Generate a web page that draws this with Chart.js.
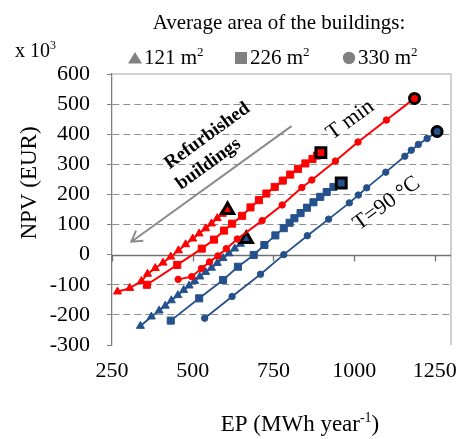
<!DOCTYPE html>
<html>
<head>
<meta charset="utf-8">
<script src="https://cdn.jsdelivr.net/npm/chart.js@4.4.1/dist/chart.umd.min.js"></script>
<style>
  html, body { margin: 0; padding: 0; background: #ffffff; }
  canvas { display: block; }
</style>
</head>
<body>
<canvas id="npv" width="461" height="439"></canvas>
<script>
// Axis ticks
const xTicks = [250, 500, 750, 1000, 1250];
const yTicks = [-300, -200, -100, 0, 100, 200, 300, 400, 500, 600];

// Average building areas (m2) shown in the legend
const areas = ['121', '226', '330'];

// T min, 121 m2
const tminSmallEP  = [267, 305, 341, 360, 384, 408, 432, 456, 478, 500, 520, 540, 558, 576, 592, 608];
const tminSmallNPV = [-123, -111, -88, -64, -45, -27, -7, 14, 34, 53, 70, 87, 103, 121, 135, 148];

// T min, 226 m2
const tminMidEP  = [358, 452, 528, 566, 597, 622, 653, 679, 705, 728, 754, 779, 802, 826, 849, 871, 885, 897];
const tminMidNPV = [-100, -34, 20, 50, 80, 103, 129, 157, 181, 203, 225, 246, 266, 285, 303, 318, 329, 339];

// T min, 330 m2
const tminLargeEP  = [455, 497, 527, 552, 578, 604, 638, 715, 777, 838, 869, 942, 1012, 1100, 1187];
const tminLargeNPV = [-82, -73, -46, -24, -4, 20, 52, 113, 165, 223, 248, 311, 374, 447, 519];

// T = 90 °C, 121 m2
const t90SmallEP  = [338, 372, 396, 415, 434, 454, 472, 489, 506, 522, 540, 558, 576, 594, 612, 630, 648, 666];
const t90SmallNPV = [-237, -206, -186, -170, -152, -135, -118, -103, -88, -73, -58, -44, -28, -12, 4, 20, 36, 52];

// T = 90 °C, 226 m2
const t90MidEP  = [432, 520, 594, 640, 689, 722, 756, 782, 800, 815, 834, 854, 874, 895, 915, 936, 960];
const t90MidNPV = [-219, -145, -84, -40, -1, 32, 64, 88, 106, 121, 138, 156, 174, 192, 208, 225, 238];

// T = 90 °C, 330 m2
const t90LargeEP  = [537, 622, 710, 782, 855, 921, 985, 1013, 1039, 1098, 1157, 1177, 1199, 1226, 1257];
const t90LargeNPV = [-211, -139, -65, 0, 63, 118, 172, 198, 222, 274, 327, 347, 366, 386, 409];

const RED = '#ff0000';
const BLUE = '#24508c';
const SERIF = "'Liberation Serif', 'Times New Roman', serif";

function series(label, xs, ys, color, style, r, endR, width) {
  const last = xs.length - 1;
  return {
    label,
    data: xs.map((x, i) => ({ x, y: ys[i] })),
    showLine: true,
    borderColor: color,
    borderWidth: width,
    backgroundColor: color,
    pointStyle: style,
    pointBackgroundColor: color,
    pointBorderColor: c => c.dataIndex === last ? '#000000' : color,
    pointBorderWidth: c => c.dataIndex === last ? 3 : 1,
    pointRadius: c => c.dataIndex === last ? endR : r,
    pointHoverRadius: c => c.dataIndex === last ? endR : r
  };
}

const datasets = [
  series('T min 121', tminSmallEP, tminSmallNPV, RED, 'triangle', 4.6, 7, 2),
  series('T min 226', tminMidEP, tminMidNPV, RED, 'rect', 5, 7, 2),
  series('T min 330', tminLargeEP, tminLargeNPV, RED, 'circle', 3.2, 5, 2),
  series('T90 121', t90SmallEP, t90SmallNPV, BLUE, 'triangle', 4.6, 7, 1.8),
  series('T90 226', t90MidEP, t90MidNPV, BLUE, 'rect', 5, 7, 1.8),
  series('T90 330', t90LargeEP, t90LargeNPV, BLUE, 'circle', 3.2, 5, 1.8)
];

// Draws text pieces where some pieces are raised superscripts
function richText(ctx, parts, x, y, size, align) {
  const supSize = Math.round(size * 0.62);
  let total = 0;
  const widths = parts.map(p => {
    ctx.font = (p.sup ? supSize : size) + 'px ' + SERIF;
    const w = ctx.measureText(p.t).width;
    total += w;
    return w;
  });
  let cx = align === 'center' ? x - total / 2 : (align === 'right' ? x - total : x);
  ctx.textAlign = 'left';
  ctx.textBaseline = 'alphabetic';
  parts.forEach((p, i) => {
    ctx.font = (p.sup ? supSize : size) + 'px ' + SERIF;
    ctx.fillText(p.t, cx, p.sup ? y - size * 0.38 : y);
    cx += widths[i];
  });
}

function rotatedText(ctx, text, x, y, angle, font) {
  ctx.save();
  ctx.translate(x, y);
  ctx.rotate(angle);
  ctx.font = font;
  ctx.textAlign = 'center';
  ctx.textBaseline = 'middle';
  ctx.fillText(text, 0, 0);
  ctx.restore();
}

const SLANT = -36 * Math.PI / 180;

const decorations = {
  id: 'decorations',
  beforeDatasetsDraw(chart) {
    const { ctx, chartArea: a, scales: { x, y } } = chart;
    ctx.save();
    // plot area frame (top and right)
    ctx.strokeStyle = '#c4c4c4';
    ctx.lineWidth = 1.5;
    ctx.beginPath();
    ctx.moveTo(a.left, a.top);
    ctx.lineTo(a.right, a.top);
    ctx.lineTo(a.right, a.bottom);
    ctx.stroke();
    // horizontal axis crossing at NPV = 0
    const y0 = Math.round(y.getPixelForValue(0)) + 0.5;
    ctx.strokeStyle = '#707070';
    ctx.lineWidth = 1.3;
    ctx.beginPath();
    ctx.moveTo(a.left, y0);
    ctx.lineTo(a.right, y0);
    xTicks.forEach(v => {
      const px = Math.round(x.getPixelForValue(v)) + 0.5;
      ctx.moveTo(px, y0);
      ctx.lineTo(px, y0 + 6);
    });
    ctx.stroke();
    // arrow pointing towards refurbished buildings
    const from = { x: x.getPixelForValue(806), y: y.getPixelForValue(427) };
    const to = { x: x.getPixelForValue(310), y: y.getPixelForValue(43) };
    ctx.strokeStyle = '#8a8a8a';
    ctx.lineWidth = 2;
    ctx.beginPath();
    ctx.moveTo(from.x, from.y);
    ctx.lineTo(to.x, to.y);
    const ang = Math.atan2(to.y - from.y, to.x - from.x);
    const head = 12;
    ctx.moveTo(to.x - head * Math.cos(ang - 0.55), to.y - head * Math.sin(ang - 0.55));
    ctx.lineTo(to.x, to.y);
    ctx.lineTo(to.x - head * Math.cos(ang + 0.55), to.y - head * Math.sin(ang + 0.55));
    ctx.stroke();
    ctx.restore();
  },
  afterDraw(chart) {
    const { ctx, scales: { x, y } } = chart;
    ctx.save();
    ctx.fillStyle = '#000000';

    // legend heading
    ctx.font = '21px ' + SERIF;
    ctx.textAlign = 'center';
    ctx.textBaseline = 'alphabetic';
    ctx.fillText('Average area of the buildings:', 279, 29);

    // legend entries
    const legendX = [128, 235, 343];
    const styles = ['triangle', 'rect', 'circle'];
    ctx.fillStyle = '#808080';
    styles.forEach((s, i) => {
      const lx = legendX[i], cy = 58;
      ctx.beginPath();
      if (s === 'triangle') {
        ctx.moveTo(lx, cy + 5.5);
        ctx.lineTo(lx + 14, cy + 5.5);
        ctx.lineTo(lx + 7, cy - 6);
        ctx.closePath();
      } else if (s === 'rect') {
        ctx.rect(lx, cy - 6, 12, 12);
      } else {
        ctx.arc(lx + 6, cy, 6.2, 0, Math.PI * 2);
      }
      ctx.fill();
    });
    ctx.fillStyle = '#000000';
    areas.forEach((a, i) => {
      richText(ctx, [{ t: a + ' m' }, { t: '2', sup: true }], legendX[i] + (i === 0 ? 16 : 15), 64, 21, 'left');
    });

    // exponent of the NPV axis
    richText(ctx, [{ t: 'x 10' }, { t: '3', sup: true }], 15, 57, 20, 'left');

    // axis titles
    richText(ctx, [{ t: 'EP (MWh year' }, { t: '-1', sup: true }, { t: ')' }], 300, 431, 23, 'center');
    ctx.save();
    ctx.translate(36, 183);
    ctx.rotate(-Math.PI / 2);
    ctx.font = '23px ' + SERIF;
    ctx.textAlign = 'center';
    ctx.textBaseline = 'alphabetic';
    ctx.fillText('NPV (EUR)', 0, 0);
    ctx.restore();

    // in-plot labels
    rotatedText(ctx, 'Refurbished', x.getPixelForValue(545), y.getPixelForValue(394), SLANT, 'bold 19px ' + SERIF);
    rotatedText(ctx, 'buildings', x.getPixelForValue(549), y.getPixelForValue(301), SLANT, 'bold 19px ' + SERIF);
    rotatedText(ctx, 'T min', x.getPixelForValue(988), y.getPixelForValue(447), SLANT, '22px ' + SERIF);
    rotatedText(ctx, 'T=90 °C', x.getPixelForValue(1101), y.getPixelForValue(170), SLANT, '22px ' + SERIF);
    ctx.restore();
  }
};

new Chart(document.getElementById('npv'), {
  type: 'scatter',
  data: { datasets },
  options: {
    responsive: false,
    animation: false,
    events: [],
    layout: { padding: { top: 74, right: 9, left: 0, bottom: 0 } },
    plugins: { legend: { display: false }, tooltip: { enabled: false } },
    scales: {
      x: {
        type: 'linear',
        min: 250,
        max: 1300,
        afterBuildTicks: s => { s.ticks = xTicks.map(v => ({ value: v })); },
        afterFit: s => { s.height = 94; s.paddingLeft = 0; s.paddingRight = 0; },
        grid: { display: false, drawTicks: false },
        border: { display: false },
        ticks: {
          padding: 13,
          maxRotation: 0,
          autoSkip: false,
          color: '#000000',
          font: { family: SERIF, size: 22 },
          callback: v => String(v)
        }
      },
      y: {
        type: 'linear',
        min: -300,
        max: 600,
        afterBuildTicks: s => { s.ticks = yTicks.map(v => ({ value: v })); },
        afterFit: s => { s.width = 112; s.paddingTop = 0; s.paddingBottom = 0; },
        grid: {
          color: c => (c.tick && (c.tick.value === 0 || c.tick.value === 600 || c.tick.value === -300)) ? 'rgba(0,0,0,0)' : '#8f8f8f',
          lineWidth: 1,
          drawTicks: true,
          tickLength: 5,
          tickColor: '#808080',
          tickBorderDash: []
        },
        border: { display: true, color: '#808080', width: 1.3, dash: [7, 4] },
        ticks: {
          padding: 17,
          autoSkip: false,
          color: '#000000',
          font: { family: SERIF, size: 22 },
          callback: v => String(v)
        }
      }
    }
  },
  plugins: [decorations]
});
</script>
</body>
</html>
